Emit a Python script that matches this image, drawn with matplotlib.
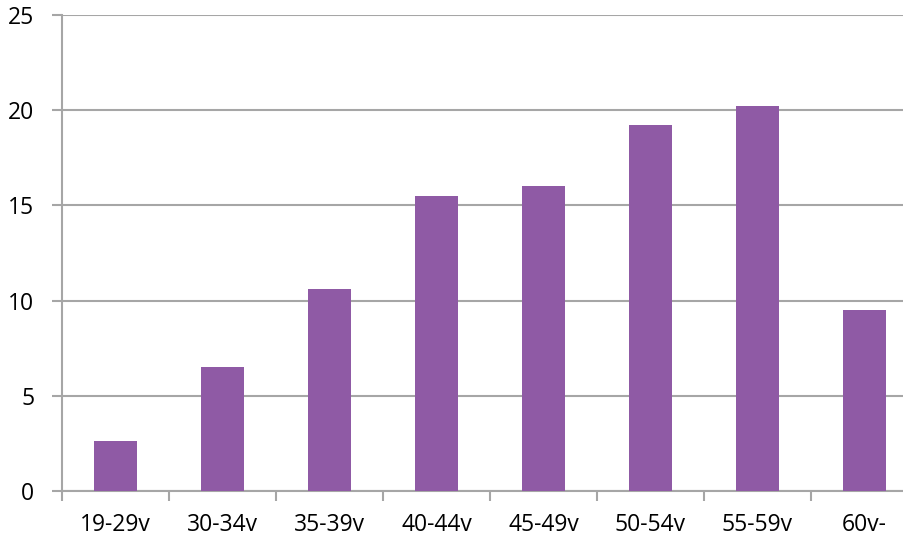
import matplotlib.pyplot as plt
import numpy as np

plt.rcParams['font.family'] = ['Open Sans', 'DejaVu Sans']

groups = ['19-29v', '30-34v', '35-39v', '40-44v', '45-49v', '50-54v', '55-59v', '60v-']
values = [2.6, 6.5, 10.6, 15.5, 16.0, 19.2, 20.2, 9.5]

fig = plt.figure(figsize=(9.04, 5.37), dpi=100)
ax = fig.add_axes([62/904, 1-491/537, 856/904, 476/537])

x = np.arange(len(groups))
ax.bar(x, values, width=0.4, color='#8f5aa5', zorder=3)

ax.set_xlim(-0.5, len(groups) - 0.5)
ax.set_ylim(0, 25)
ax.set_yticks(np.arange(0, 26, 5))
ax.yaxis.grid(True, color='#a6a6a6', linewidth=1.5, zorder=0)

# category separators as tick marks on the x axis
ax.set_xticks(np.arange(-0.5, len(groups) + 0.5, 1))
ax.set_xticklabels([])
ax.set_xticks(x, minor=True)
ax.set_xticklabels(groups, minor=True, fontsize=16.5)
ax.tick_params(axis='x', which='minor', length=0, pad=16)
ax.tick_params(axis='x', which='major', length=7, width=1.5, color='#a6a6a6', direction='out')
ax.tick_params(axis='y', length=7, width=1.5, color='#a6a6a6', labelsize=16.5, pad=13)

for side in ['top', 'right']:
    ax.spines[side].set_visible(False)
for side in ['left', 'bottom']:
    ax.spines[side].set_color('#a6a6a6')
    ax.spines[side].set_linewidth(1.5)

plt.savefig('out.png', dpi=100)
